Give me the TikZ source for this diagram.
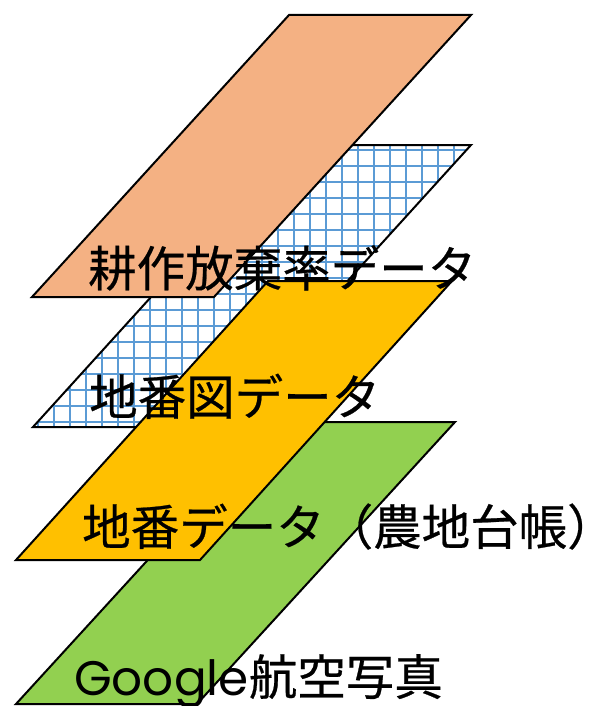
\documentclass[tikz,border=0pt]{standalone}
\usepackage{fontspec}
\setmainfont{Noto Sans CJK JP}
\newfontfamily\jpfont{Noto Sans CJK JP}[FakeBold=0.5]
\newfontfamily\latinfont{Poppins}
\definecolor{orangefill}{HTML}{F4B183}
\definecolor{gridblue}{HTML}{5B9BD5}
\definecolor{yellowfill}{HTML}{FFC000}
\definecolor{greenfill}{HTML}{92D050}
\begin{document}
\begin{tikzpicture}[x=1pt,y=-1pt,
  layer/.style={draw=black,line width=2pt,line join=miter},
  gridline/.style={draw=gridblue,line width=1.6pt},
  lbl/.style={anchor=base west,inner sep=0pt,font=\jpfont\fontsize{48.5}{48}\selectfont}]
\fill[white] (0,0) rectangle (591,706);
\useasboundingbox (0,0) rectangle (591,706);
% grid layer (地番図)
\begin{scope}
  \clip (33,427) -- (215,427) -- (471,145) -- (289,145) -- cycle;
  \fill[white] (0,140) rectangle (591,430);
  \foreach \k in {-5,...,23} \draw[gridline] ({101.7+16*\k},140) -- ({101.7+16*\k},432);
  \foreach \k in {0,...,18} \draw[gridline] (20,{421.7-16*\k}) -- (480,{421.7-16*\k});
\end{scope}
\draw[layer] (33,427) -- (215,427) -- (471,145) -- (289,145) -- cycle;
% orange layer
\filldraw[layer,fill=orangefill] (32,297) -- (214,297) -- (471,15) -- (289,15) -- cycle;
% green layer
\filldraw[layer,fill=greenfill] (16,704) -- (197,704) -- (455,422) -- (274,422) -- cycle;
% yellow layer
\filldraw[layer,fill=yellowfill] (16,560) -- (200,560) -- (452,281) -- (268,281) -- cycle;
% labels
\node[lbl] (t1) at (88,286.5) {耕作放棄率データ};
\node[lbl] (t2) at (89,415) {地番図データ};
\node[lbl] (t3) at (82,545) {地番データ（農地台帳）};
\node[lbl] (t4) at (74,695) {{\latinfont Google}航空写真};
\end{tikzpicture}
\end{document}
